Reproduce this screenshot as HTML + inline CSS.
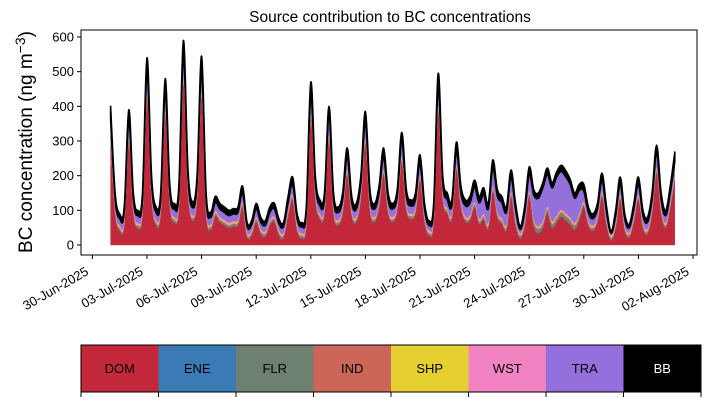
<!DOCTYPE html>
<html><head><meta charset="utf-8">
<style>
body{margin:0;background:#fff;}
svg{display:block;font-family:"Liberation Sans",sans-serif;}
</style></head>
<body>
<svg id="chart" width="710" height="402" viewBox="0 0 710 402"></svg>
<script>
// Samples every 6 hours from 01-Jul-2025 00:00 (last sample 01-Aug 00:00)
const seriesNames = ["DOM","ENE","FLR","IND","SHP","WST","TRA","BB"];
const seriesColors = ["#c3283a","#3a7ab5","#6e8070","#cc6658","#e6cf30","#f283c3","#9370db","#000000"];
const DOM = [304,91,41,57, 296,91,49,91, 423,134,57,91, 372,117,66,108, 466,151,70,134, 427,91,44,83,
 66,57,49,54, 57,108,22,28, 66,32,24,57, 66,28,20,83, 130,41,20,57, 363,134,75,91, 304,91,57,91,
 202,83,66,134, 291,100,66,108, 202,91,66,100, 240,100,75,91, 185,66,27,66, 384,134,91,75,
 216,108,67,71, 109,61,74,48, 154,80,61,43, 137,58,19,53, 140,54,34,49, 91,49,64,81, 71,59,44,71,
 109,56,41,66, 139,57,13,49, 130,41,22,66, 130,49,32,91, 209,91,49,108, 192];
const ENE = Array(125).fill(2);
const FLR = [3,3,3,3, 3,3,3,3, 3,3,3,3, 3,3,3,3, 3,3,3,3, 3,3,3,3, 3,3,3,3, 3,3,3,3, 3,3,3,3, 3,3,3,3,
 3,3,3,3, 3,3,3,3, 3,3,3,3, 3,3,3,3, 3,3,3,3, 3,3,3,3, 3,3,3,3, 3,3,3,3, 3,3,3,3, 3,3,3,3, 3,3,3,3,
 3,3,3,3, 3,3,3,3, 3,8,8,8, 8,8,8,8, 8,8,8,8, 3,3,3,3, 3,3,3,3, 3,3,3,3, 3,3,3,3, 3,3,3,3, 3];
const IND = Array(125).fill(4);
const SHP = Array(125).fill(3);
const WST = Array(125).fill(4);
const TRA = [44,24,19,21, 43,24,20,24, 55,28,21,24, 50,22,22,26, 59,30,22,28, 56,24,20,23,
 22,21,20,20, 21,26,16,14, 22,18,17,21, 22,18,17,23, 28,19,17,21, 50,28,22,24, 44,24,21,24,
 34,23,22,28, 43,25,22,26, 34,24,22,25, 38,25,22,24, 33,22,14,22, 52,28,24,22,
 36,26,30,35, 40,45,55,40, 50,45,45,35, 40,30,10,25, 45,70,80,95, 90,95,110,110, 105,95,70,65,
 30,22,19,22, 30,21,5,20, 28,19,12,22, 28,20,18,24, 35,24,20,26, 33];
const BB = [36,19,14,16, 35,19,15,19, 46,22,16,19, 42,21,16,20, 49,23,17,22, 46,19,15,18,
 16,16,15,15, 16,20,11,12, 16,14,13,16, 16,13,12,18, 22,14,12,16, 41,22,17,19, 36,19,16,19,
 28,18,16,22, 35,19,16,20, 28,19,16,19, 31,19,17,19, 26,16,13,16, 43,22,19,17,
 29,20,17,18, 22,18,20,16, 25,19,18,16, 23,16,10,16, 24,15,15,15, 20,15,15,18, 18,15,15,18,
 20,16,14,16, 22,16,6,15, 22,14,10,16, 22,15,14,19, 28,19,15,20, 27];
const yTicks = [0,100,200,300,400,500,600];
const xTickLabels = ["30-Jun-2025","03-Jul-2025","06-Jul-2025","09-Jul-2025","12-Jul-2025","15-Jul-2025","18-Jul-2025","21-Jul-2025","24-Jul-2025","27-Jul-2025","30-Jul-2025","02-Aug-2025"];
const xTickDays = [-1,2,5,8,11,14,17,20,23,26,29,32];
const stepHours = 6;

const NS="http://www.w3.org/2000/svg";
const svg=document.getElementById('chart');
function mk(tag,attrs,parent){const e=document.createElementNS(NS,tag);for(const k in attrs)e.setAttribute(k,attrs[k]);(parent||svg).appendChild(e);return e;}
const L=81,R=697,T=30,B=255;
const xScale=d=>110.6+d*18.2;
const yScale=v=>245-v*(208/600);

function smooth(pts){
  let d="";
  for(let i=0;i<pts.length-1;i++){
    const p0=pts[Math.max(0,i-1)],p1=pts[i],p2=pts[i+1],p3=pts[Math.min(pts.length-1,i+2)];
    const t=0.18;
    const c1=[p1[0]+(p2[0]-p0[0])*t,p1[1]+(p2[1]-p0[1])*t];
    const c2=[p2[0]-(p3[0]-p1[0])*t,p2[1]-(p3[1]-p1[1])*t];
    d+=` C${c1[0].toFixed(2)},${c1[1].toFixed(2)} ${c2[0].toFixed(2)},${c2[1].toFixed(2)} ${p2[0].toFixed(2)},${p2[1].toFixed(2)}`;
  }
  return d;
}

const series=[DOM,ENE,FLR,IND,SHP,WST,TRA,BB];
const n=DOM.length;
let base=Array(n).fill(0);
series.forEach((s,si)=>{
  const top=base.map((b,i)=>b+s[i]);
  const tp=[],bp=[];
  for(let i=0;i<n;i++)tp.push([xScale(i*stepHours/24),yScale(top[i])]);
  for(let i=n-1;i>=0;i--)bp.push([xScale(i*stepHours/24),yScale(base[i])]);
  let d=`M${tp[0][0].toFixed(2)},${tp[0][1].toFixed(2)}`+smooth(tp)+` L${bp[0][0].toFixed(2)},${bp[0][1].toFixed(2)}`+smooth(bp)+"Z";
  const p=mk('path',{d:d,fill:seriesColors[si],stroke:seriesColors[si],'stroke-width':si===7?1.6:0.4,'stroke-linejoin':'round'});
  
  
  base=top;
});

const frame=mk('rect',{x:L,y:T,width:R-L,height:B-T,fill:'none',stroke:'#000','stroke-width':1});



yTicks.forEach(v=>{
  const y=yScale(v);
  mk('line',{x1:L-4,x2:L,y1:y,y2:y,stroke:'#000'});
  const t=mk('text',{x:L-7,y:y+4.5,'text-anchor':'end','font-size':13});
  t.textContent=v;
  
  
});
xTickDays.forEach((d,i)=>{
  const x=xScale(d);
  mk('line',{x1:x,x2:x,y1:B,y2:B+4,stroke:'#000'});
  const ax=x-3, ay=B+19;
  const t=mk('text',{x:ax,y:ay,'text-anchor':'end','font-size':13,transform:`rotate(-30 ${ax} ${ay})`});
  t.textContent=xTickLabels[i];
  
  
});

const title=mk('text',{x:390,y:22,'text-anchor':'middle','font-size':15.5});
title.textContent="Source contribution to BC concentrations";



const yl=mk('text',{x:32,y:142,'text-anchor':'middle','font-size':19,transform:'rotate(-90 32 142)'});
yl.innerHTML='BC concentration (ng m<tspan dy="-7" font-size="14">−3</tspan><tspan dy="7">)</tspan>';



const cw=(701-81)/8;
seriesNames.forEach((nm,i)=>{
  const x=81+i*cw;
  const r=mk('rect',{x:x,y:345,width:cw,height:47,fill:seriesColors[i]});
  
  
  const t=mk('text',{x:x+cw/2,y:373,'text-anchor':'middle','font-size':13,fill:nm==='BB'?'#fff':'#000'});
  t.textContent=nm;
  
  
});
const lf=mk('rect',{x:81,y:345,width:620,height:47,fill:'none',stroke:'#000','stroke-width':1});


for(let i=0;i<=8;i++){const x=81+i*cw;mk('line',{x1:x,x2:x,y1:392,y2:397,stroke:'#000'});}
</script>
</body></html>
